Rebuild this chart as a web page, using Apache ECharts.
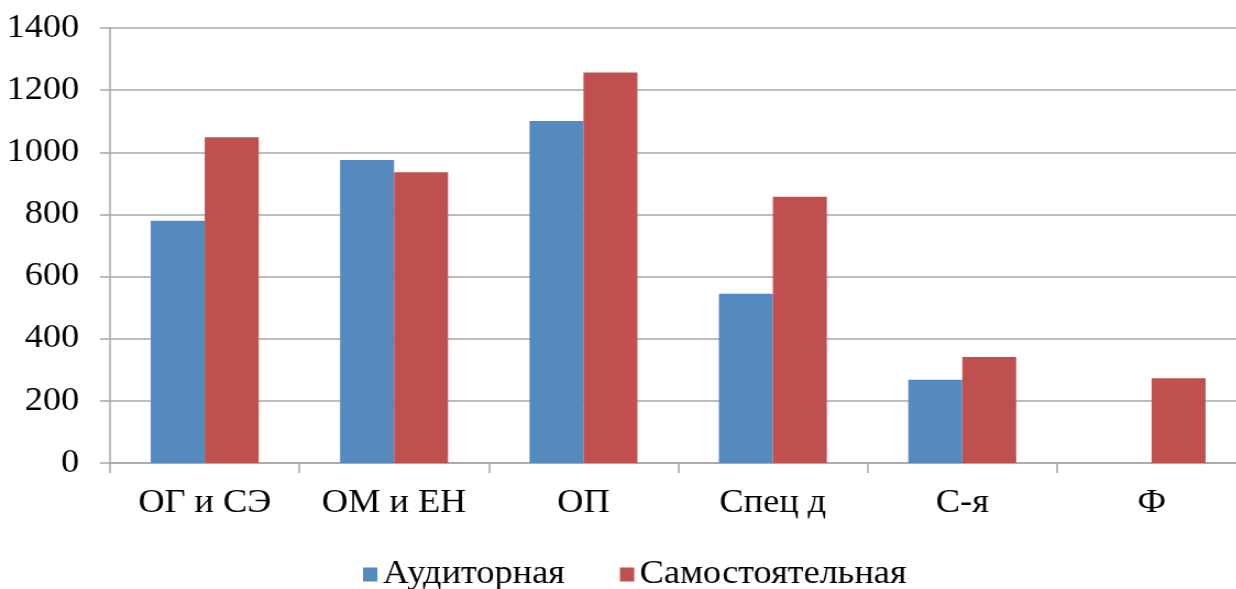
<!DOCTYPE html>
<html>
<head>
<meta charset="utf-8">
<style>
  html, body { margin: 0; padding: 0; background: #fff; overflow: hidden; width: 1236px; height: 589px; }
  /* оригинал растянут по горизонтали — рисуем уже и растягиваем */
  #chart { width: 1133px; height: 589px; transform: scaleX(1.1); transform-origin: 0 0; }
</style>
<script src="https://cdn.jsdelivr.net/npm/echarts@6/dist/echarts.min.js"></script>
</head>
<body>
<div id="chart"></div>
<script>
// данные диаграммы
const categories = ['ОГ и СЭ', 'ОМ и ЕН', 'ОП', 'Спец д', 'С-я', 'Ф']
const auditory = [780, 975, 1101, 545, 268, 0]
const selfStudy = [1048, 936, 1257, 857, 341, 273]
const seriesNames = ['Аудиторная', 'Самостоятельная']

const font = 'Liberation Serif'
const gray = '#a6a6a6'

const option = {
  animation: false,
  textStyle: { fontFamily: font },
  grid: {
    left: 100,
    top: 28,
    width: 1033, // правый край уходит за кадр, как в оригинале
    height: 435
  },
  legend: {
    left: 325,
    top: 553,
    itemWidth: 13,
    itemHeight: 14,
    itemGap: 50,
    icon: 'rect',
    textStyle: { fontFamily: font, fontSize: 33, color: '#000' },
    data: seriesNames
  },
  xAxis: {
    type: 'category',
    data: categories,
    axisLine: { lineStyle: { color: gray, width: 1.5 } },
    axisTick: { show: true, length: 10, lineStyle: { color: gray, width: 1.5 } },
    axisLabel: { fontFamily: font, fontSize: 33, color: '#000', margin: 24, interval: 0 },
    splitLine: { show: false }
  },
  yAxis: {
    type: 'value',
    min: 0,
    max: 1400,
    interval: 200,
    axisLine: { show: true, lineStyle: { color: gray, width: 1.5 } },
    axisTick: { show: true, length: 9, lineStyle: { color: gray, width: 1.5 } },
    axisLabel: {
      fontFamily: font,
      fontSize: 33,
      color: '#000',
      margin: 28,
      formatter: (v) => String(v)
    },
    splitLine: { show: true, lineStyle: { color: gray, width: 1.5 } }
  },
  series: [
    {
      name: seriesNames[0],
      type: 'bar',
      data: auditory,
      barGap: '0%',
      barCategoryGap: '43%',
      itemStyle: { color: '#558ABF' }
    },
    {
      name: seriesNames[1],
      type: 'bar',
      data: selfStudy,
      barGap: '0%',
      barCategoryGap: '43%',
      itemStyle: { color: '#C0504F' }
    }
  ]
}

const myChart = echarts.init(document.getElementById('chart'))
myChart.setOption(option)
</script>
</body>
</html>
